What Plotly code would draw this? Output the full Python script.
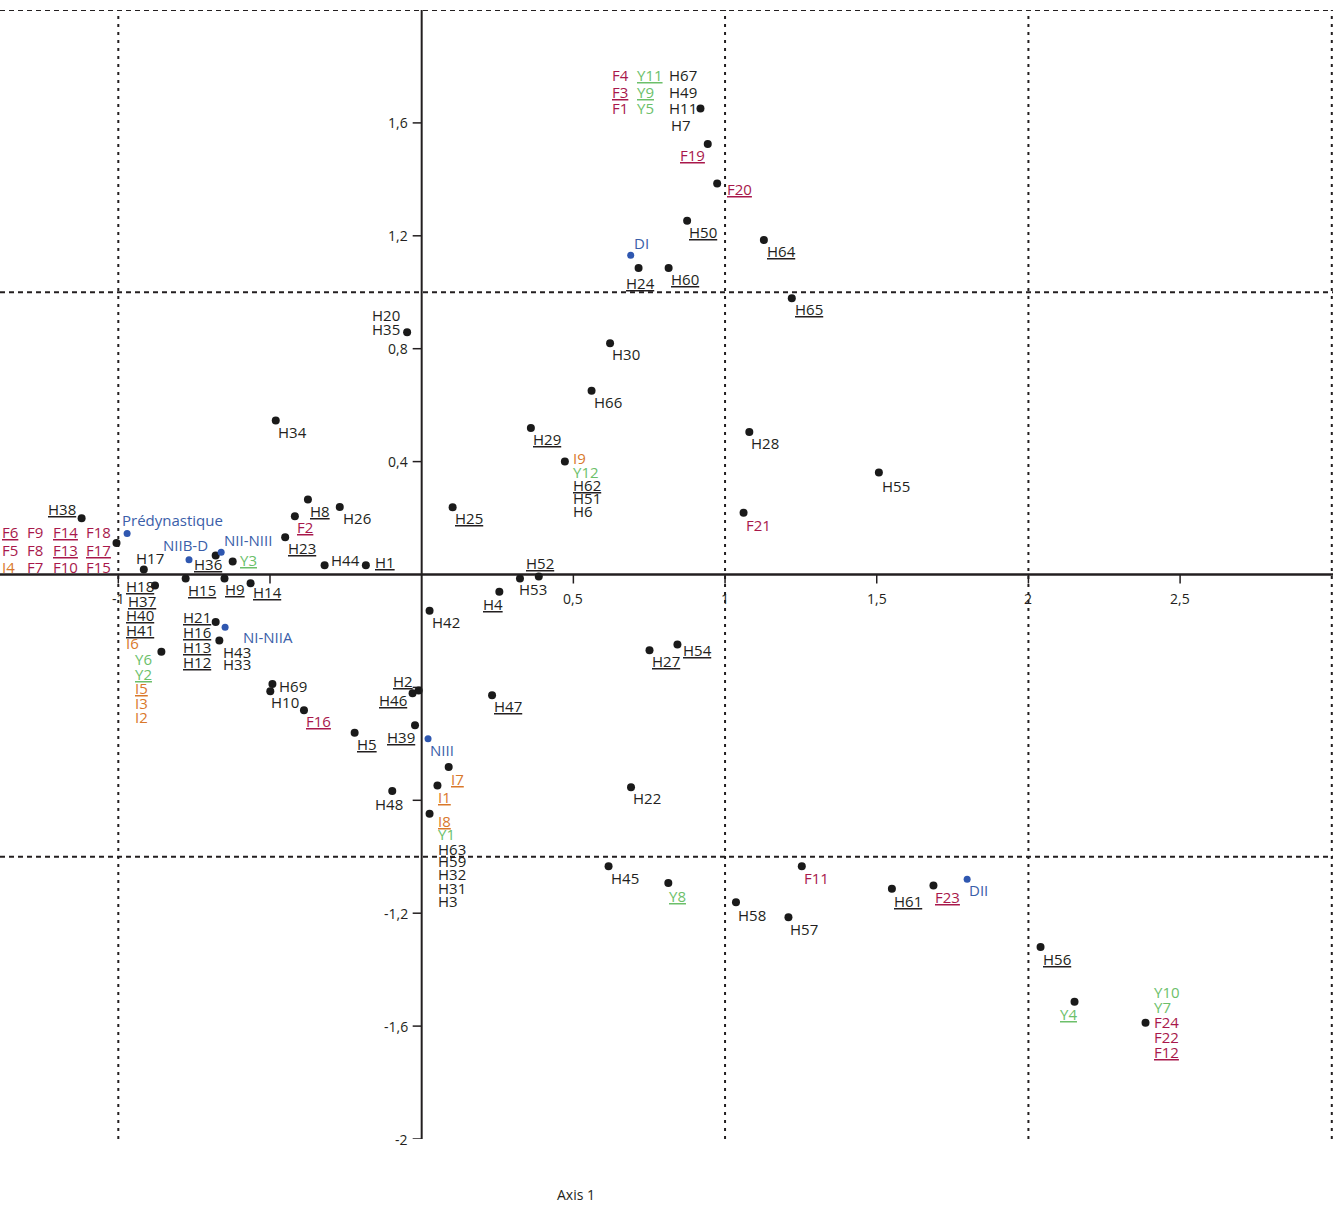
import plotly.graph_objects as go

# ---------------- data ----------------
# point coordinates (Axis 1, Axis 2) and kind: "s" = specimen group, "p" = period
pt_x = [0.919, 0.943, 0.974, 0.875, 0.689, 0.715, 0.814, 1.128, 1.220, 0.621,
        0.560, 0.360, 0.472, 1.080, 1.061, 0.386, 0.324, 0.256, 0.102, 1.507,
        0.843, 0.751, 0.690, 0.616, 0.813, 1.036, 1.209, 1.253, 1.550, 1.687,
        1.798, 2.040, 2.152, 2.386, 0.026, -0.010, -0.030, 0.232, -0.022, -0.221,
        0.021, 0.089, 0.052, -0.097, 0.026, -0.388, -0.492, -0.499, -0.375, -0.270,
        -0.418, -0.450, -0.320, -0.184, -0.623, -0.661, -0.679, -0.767, -0.778, -0.650,
        -0.564, -0.679, -0.648, -0.667, -0.858, -1.121, -0.971, -1.006, -0.916, -0.879,
        -0.481, -0.048]
pt_y = [1.651, 1.525, 1.385, 1.253, 1.131, 1.086, 1.086, 1.185, 0.979, 0.819,
        0.651, 0.519, 0.400, 0.505, 0.219, -0.007, -0.014, -0.061, 0.238, 0.361,
        -0.248, -0.268, -0.754, -1.034, -1.093, -1.161, -1.214, -1.034, -1.113, -1.102,
        -1.080, -1.320, -1.514, -1.588, -0.128, -0.411, -0.421, -0.428, -0.534, -0.561,
        -0.582, -0.682, -0.748, -0.767, -0.848, -0.481, -0.388, -0.414, 0.266, 0.239,
        0.206, 0.132, 0.033, 0.033, 0.046, 0.079, 0.067, 0.052, -0.014, -0.014,
        -0.031, -0.168, -0.187, -0.234, -0.274, 0.199, 0.145, 0.112, 0.018, -0.039,
        0.546, 0.858]
pt_kind = ["s", "s", "s", "s", "p", "s", "s", "s", "s", "s",
           "s", "s", "s", "s", "s", "s", "s", "s", "s", "s",
           "s", "s", "s", "s", "s", "s", "s", "s", "s", "s",
           "p", "s", "s", "s", "s", "s", "s", "s", "s", "s",
           "p", "s", "s", "s", "s", "s", "s", "s", "s", "s",
           "s", "s", "s", "s", "s", "p", "s", "p", "s", "s",
           "s", "s", "p", "s", "s", "s", "p", "s", "s", "s",
           "s", "s"]
pt_names = [
    ["F4", "Y11", "H67", "F3", "Y9", "H49", "F1", "Y5", "H11", "H7"],
    ["F19"], ["F20"], ["H50"], ["DI"], ["H24"], ["H60"], ["H64"], ["H65"], ["H30"],
    ["H66"], ["H29"], ["I9", "Y12", "H62", "H51", "H6"], ["H28"], ["F21"], ["H52"], ["H53"], ["H4"], ["H25"], ["H55"],
    ["H54"], ["H27"], ["H22"], ["H45"], ["Y8"], ["H58"], ["H57"], ["F11"], ["H61"], ["F23"],
    ["DII"], ["H56"], ["Y4"], ["Y10", "Y7", "F24", "F22", "F12"], ["H42"], ["H2"], ["H46"], ["H47"], ["H39"], ["H5"],
    ["NIII"], ["I7"], ["I1"], ["H48"], ["I8", "Y1", "H63", "H59", "H32", "H31", "H3"], ["F16"], ["H69"], ["H10"], ["H8"], ["H26"],
    ["F2"], ["H23"], ["H44"], ["H1"], ["Y3"], ["NII-NIII"], ["H36"], ["NIIB-D"], ["H15"], ["H9"],
    ["H14"], ["H21", "H16", "H13", "H12"], ["NI-NIIA"], ["H43", "H33"], ["Y6", "Y2", "I5", "I3", "I2"],
    ["H38"], ["Prédynastique"],
    ["F6", "F9", "F14", "F18", "F5", "F8", "F13", "F17", "I4", "F7", "F10", "F15"],
    ["H17"], ["H18", "H37", "H40", "H41", "I6"],
    ["H34"], ["H20", "H35"],
]
underlined = ["Y11", "F3", "Y9", "F19", "F20", "H50", "H24", "H60", "H64", "H65", "H29",
              "H62", "H52", "H4", "H25", "H54", "H27", "Y8", "H61", "F23", "H56", "Y4",
              "F12", "H2", "H46", "H47", "H39", "H5", "I7", "I1", "I8", "F16", "H8", "F2",
              "H23", "H1", "Y3", "H36", "H15", "H9", "H14", "H21", "H16", "H13", "H12",
              "Y2", "I5", "H38", "F6", "F14", "F13", "F17", "H18", "H37", "H40", "H41"]

x_tick_vals = [-1, -0.5, 0.5, 1, 1.5, 2, 2.5]
x_tick_text = ["-1", "", "0,5", "1", "1,5", "2", "2,5"]
y_tick_vals = [-2, -1.6, -1.2, -0.8, -0.4, 0.4, 0.8, 1.2, 1.6]
y_tick_text = ["-2", "-1,6", "-1,2", "", "", "0,4", "0,8", "1,2", "1,6"]
grid_x = [-1, 1, 2, 3]
grid_y = [2, 1, -1]
axis_title = "Axis 1"

# ---------------- label placement (layout) ----------------
# name -> (anchor, dx px, dy px downward) relative to its point
place = {
    "F4": ("l", -89, -34), "Y11": ("l", -64, -34), "H67": ("l", -32, -34),
    "F3": ("l", -89, -17), "Y9": ("l", -64, -17), "H49": ("l", -32, -17),
    "F1": ("l", -89, -1), "Y5": ("l", -64, -1), "H11": ("l", -32, -1), "H7": ("l", -30, 16),
    "F19": ("l", -29, 11), "F20": ("l", 9, 5), "H50": ("l", 1, 11), "DI": ("l", 2, -12),
    "H24": ("l", -14, 15), "H60": ("l", 1, 11), "H64": ("l", 2, 11), "H65": ("l", 2, 11),
    "H30": ("l", 1, 11), "H66": ("l", 1, 11), "H29": ("l", 1, 11),
    "I9": ("l", 7, -4), "Y12": ("l", 7, 10), "H62": ("l", 7, 23), "H51": ("l", 7, 36), "H6": ("l", 7, 49),
    "H28": ("l", 1, 11), "F21": ("l", 1, 12), "H52": ("l", -14, -13), "H53": ("l", -2, 11),
    "H4": ("l", -17, 12), "H25": ("l", 1, 11), "H55": ("l", 2, 13), "H54": ("l", 5, 5),
    "H27": ("l", 1, 11), "H22": ("l", 1, 11), "H45": ("l", 1, 12), "Y8": ("l", 0, 13),
    "H58": ("l", 1, 13), "H57": ("l", 1, 12), "F11": ("l", 1, 12), "H61": ("l", 1, 12),
    "F23": ("l", 1, 11), "DII": ("l", 1, 11), "H56": ("l", 1, 12), "Y4": ("l", -16, 12),
    "Y10": ("l", 7, -31), "Y7": ("l", 7, -16), "F24": ("l", 7, -1), "F22": ("l", 7, 14), "F12": ("l", 7, 29),
    "H42": ("l", 1, 11), "H2": ("r", -5, -10), "H46": ("r", -5, 7), "H47": ("l", 1, 11),
    "H39": ("r", 1, 12), "H5": ("l", 1, 11), "NIII": ("l", 1, 11), "I7": ("l", 1, 12),
    "I1": ("l", 0, 11), "H48": ("r", 12, 13),
    "I8": ("l", 7, 7), "Y1": ("l", 7, 20), "H63": ("l", 7, 35), "H59": ("l", 7, 47),
    "H32": ("l", 7, 60), "H31": ("l", 7, 74), "H3": ("l", 7, 87),
    "F16": ("l", 1, 11), "H69": ("l", 6, 2), "H10": ("l", 0, 11), "H8": ("l", 1, 12),
    "H26": ("l", 2, 11), "F2": ("l", 1, 11), "H23": ("l", 2, 11), "H44": ("l", 5, -5),
    "H1": ("l", 8, -3), "Y3": ("l", 6, -2), "NII-NIII": ("l", 2, -12), "H36": ("l", -23, 8),
    "NIIB-D": ("l", -27, -15), "H15": ("l", 1, 12), "H9": ("l", 0, 11), "H14": ("l", 1, 9),
    "H21": ("l", -34, -5), "H16": ("l", -34, 10), "H13": ("l", -34, 25), "H12": ("l", -34, 40),
    "NI-NIIA": ("l", 17, 10), "H43": ("l", 3, 11), "H33": ("l", 3, 23),
    "Y6": ("l", -27, 7), "Y2": ("l", -27, 22), "I5": ("l", -27, 36), "I3": ("l", -27, 51), "I2": ("l", -27, 65),
    "H38": ("r", -5, -9), "Prédynastique": ("l", -6, -14),
    "F6": ("l", -115, -11), "F9": ("l", -90, -11), "F14": ("l", -64, -11), "F18": ("l", -31, -11),
    "F5": ("l", -115, 7), "F8": ("l", -90, 7), "F13": ("l", -64, 7), "F17": ("l", -31, 7),
    "I4": ("l", -115, 24), "F7": ("l", -90, 24), "F10": ("l", -64, 24), "F15": ("l", -31, 24),
    "H17": ("l", -9, -11),
    "H18": ("l", -30, 0), "H37": ("l", -28, 15), "H40": ("l", -30, 29), "H41": ("l", -30, 44), "I6": ("l", -30, 57),
    "H34": ("l", 1, 12), "H20": ("r", -6, -17), "H35": ("r", -6, -3),
}

INK = "#231f20"
COLORS = {"H": INK, "F": "#a8184b", "Y": "#6cbf6a", "I": "#d9782b"}
PERIOD_TEXT = "#3a5ea9"
PERIOD_DOT = "#2f57b0"
FONT = "Open Sans"
FS = 15

X_RANGE = [-1.39, 3.004]
Y_RANGE = [-2.0, 2.0]

fig = go.Figure()

sx = [x for x, k in zip(pt_x, pt_kind) if k == "s"]
sy = [y for y, k in zip(pt_y, pt_kind) if k == "s"]
px_ = [x for x, k in zip(pt_x, pt_kind) if k == "p"]
py_ = [y for y, k in zip(pt_y, pt_kind) if k == "p"]
fig.add_trace(go.Scatter(x=sx, y=sy, mode="markers", hoverinfo="skip",
                         marker=dict(size=8, color="#1a1a1a")))
fig.add_trace(go.Scatter(x=px_, y=py_, mode="markers", hoverinfo="skip",
                         marker=dict(size=7, color=PERIOD_DOT)))

shapes = []
for gx in grid_x:
    shapes.append(dict(type="line", xref="x", yref="y", x0=gx, x1=gx, y0=Y_RANGE[0], y1=Y_RANGE[1],
                       line=dict(color=INK, width=2, dash="3px,5px"), layer="below"))
for gy in grid_y:
    shapes.append(dict(type="line", xref="x", yref="y", x0=X_RANGE[0], x1=X_RANGE[1], y0=gy, y1=gy,
                       line=dict(color=INK, width=2, dash="5px,4px"), layer="below"))
# axes through the origin
shapes.append(dict(type="line", xref="x", yref="y", x0=X_RANGE[0], x1=X_RANGE[1], y0=0, y1=0,
                   line=dict(color=INK, width=2.5), layer="below"))
shapes.append(dict(type="line", xref="x", yref="y", x0=0, x1=0, y0=Y_RANGE[0], y1=Y_RANGE[1],
                   line=dict(color=INK, width=2), layer="below"))
# ticks
for v in x_tick_vals:
    shapes.append(dict(type="line", xref="x", yref="y", x0=v, x1=v, ysizemode="pixel", yanchor=0,
                       y0=0, y1=-9, line=dict(color=INK, width=1.5), layer="below"))
for v in y_tick_vals:
    shapes.append(dict(type="line", xref="x", yref="y", y0=v, y1=v, xsizemode="pixel", xanchor=0,
                       x0=-9, x1=0, line=dict(color=INK, width=1.5), layer="below"))

annotations = []
for v, t in zip(x_tick_vals, x_tick_text):
    if t:
        annotations.append(dict(x=v, y=0, xref="x", yref="y", text=t, showarrow=False,
                                xanchor="center", yanchor="middle", yshift=-24, borderpad=0,
                                font=dict(family=FONT, size=14, color=INK)))
for v, t in zip(y_tick_vals, y_tick_text):
    if t:
        annotations.append(dict(x=0, y=v, xref="x", yref="y", text=t, showarrow=False,
                                xanchor="right", yanchor="middle", xshift=-13, borderpad=0,
                                font=dict(family=FONT, size=14, color=INK)))

for x, y, names in zip(pt_x, pt_y, pt_names):
    for name in names:
        anchor, dx, dy = place[name]
        color = COLORS.get(name[0], INK)
        if name.startswith(("DI", "NI", "Pr")):
            color = PERIOD_TEXT
        txt = "<u>%s</u>" % name if name in underlined else name
        annotations.append(dict(x=x, y=y, xref="x", yref="y", text=txt, showarrow=False,
                                xanchor="left" if anchor == "l" else "right", yanchor="middle",
                                xshift=dx, yshift=-dy, borderpad=0,
                                font=dict(family=FONT, size=FS, color=color)))

annotations.append(dict(x=0.432, y=-0.0496, xref="paper", yref="paper", text=axis_title,
                        showarrow=False, xanchor="center", yanchor="middle",
                        font=dict(family=FONT, size=14, color=INK)))

fig.update_layout(
    width=1333, height=1214,
    margin=dict(l=0, r=0, t=10, b=75),
    paper_bgcolor="white", plot_bgcolor="white",
    showlegend=False,
    xaxis=dict(range=X_RANGE, showgrid=False, zeroline=False, showticklabels=False,
               showline=False, ticks=""),
    yaxis=dict(range=Y_RANGE, showgrid=False, zeroline=False, showticklabels=False,
               showline=False, ticks=""),
    shapes=shapes,
    annotations=annotations,
)

fig.write_html("out.html", config={"displayModeBar": False},
               post_script="document.body.style.margin='0px';")
